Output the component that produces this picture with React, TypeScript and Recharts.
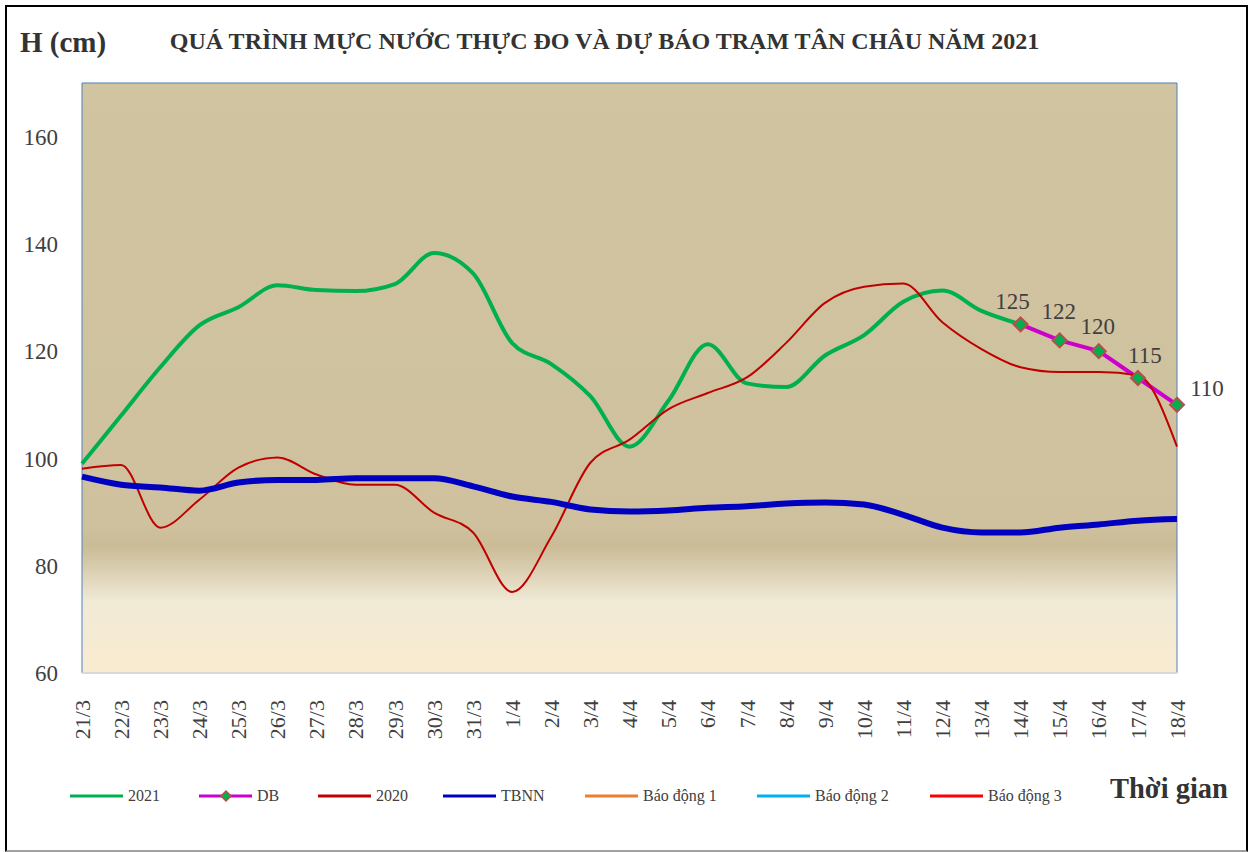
import React from 'react';
import { LineChart, Line, XAxis, YAxis, ReferenceArea, LabelList } from 'recharts';

// Mực nước trạm Tân Châu (cm), 21/3 – 18/4
const days = [
  '21/3', '22/3', '23/3', '24/3', '25/3', '26/3', '27/3', '28/3', '29/3', '30/3', '31/3',
  '1/4', '2/4', '3/4', '4/4', '5/4', '6/4', '7/4', '8/4', '9/4', '10/4', '11/4', '12/4',
  '13/4', '14/4', '15/4', '16/4', '17/4', '18/4',
];

const thucDo2021 = [
  99, 108, 117, 124.8, 128.2, 132.3, 131.4, 131.2, 132.5, 138.3, 134.5, 121.5, 117.6,
  111.6, 102.2, 110.8, 121.3, 114, 113.3, 119.2, 123, 129.2, 131.3, 127.5, 125,
  null, null, null, null,
];

const duBao = [
  null, null, null, null, null, null, null, null, null, null, null, null, null, null,
  null, null, null, null, null, null, null, null, null, null,
  125, 122, 120, 115, 110,
];

const nam2020 = [
  98.1, 98.8, 87.1, 92.3, 98.3, 100.2, 97, 95.1, 95.1, 89.9, 86.2, 75.1, 85.4, 99.2,
  103.5, 109.2, 112.2, 115.1, 121.5, 129, 132, 132.6, 125.4, 120.4, 117, 116.1,
  116.1, 115.5, 102.2,
];

const tbnn = [
  96.6, 95.1, 94.6, 94, 95.5, 96, 96, 96.3, 96.3, 96.3, 94.8, 92.9, 91.9, 90.5, 90.1,
  90.3, 90.8, 91.1, 91.6, 91.8, 91.4, 89.5, 87.1, 86.2, 86.2, 87.1, 87.7, 88.4, 88.7,
];

const yTicks = [60, 80, 100, 120, 140, 160];

const data = days.map((d, i) => ({
  ngay: d,
  y2021: thucDo2021[i],
  db: duBao[i],
  y2020: nam2020[i],
  tbnn: tbnn[i],
}));

const FONT = '"Times New Roman", "Liberation Serif", serif';
const TEXT = '#404040';

// where each forecast label sits relative to its point
const dbLabelOffsets: [number, number][] = [
  [-8, -23], [-1, -30], [-1, -25], [7, -23], [30, -17],
];
const firstDb = duBao.findIndex((v) => v != null);

const legendItems = [
  { name: '2021', color: '#00B050', x: 70, marker: false },
  { name: 'DB', color: '#CC00CC', x: 199, marker: true },
  { name: '2020', color: '#C00000', x: 318, marker: false },
  { name: 'TBNN', color: '#0000C0', x: 443, marker: false },
  { name: 'Báo động 1', color: '#ED7D31', x: 585, marker: false },
  { name: 'Báo động 2', color: '#00B0F0', x: 757, marker: false },
  { name: 'Báo động 3', color: '#FF0000', x: 930, marker: false },
];

const XTick = (props: any) => {
  const { x, payload } = props;
  const y = 700;
  return (
    <text
      x={x}
      y={y}
      transform={`rotate(-90 ${x} ${y})`}
      textAnchor="end"
      dy="0.35em"
      fontSize={22}
      fill={TEXT}
      fontFamily={FONT}
    >
      {payload.value}
    </text>
  );
};

const Diamond = (props: any) => {
  const { cx, cy, value } = props;
  if (value == null || cx == null || cy == null) return null;
  const r = 7;
  return (
    <path
      d={`M${cx},${cy - r}L${cx + r},${cy}L${cx},${cy + r}L${cx - r},${cy}Z`}
      fill="#00B050"
      stroke="#B3504A"
      strokeWidth={2}
    />
  );
};

const DbLabel = (props: any) => {
  const { x, y, value, index } = props;
  if (value == null) return null;
  const off = dbLabelOffsets[index - firstDb] || [0, -22];
  return (
    <text
      x={x + off[0]}
      y={y + off[1]}
      dy="0.35em"
      textAnchor="middle"
      fontSize={23}
      fill={TEXT}
      fontFamily={FONT}
    >
      {value}
    </text>
  );
};

export default function App() {
  return (
    <div
      style={{
        position: 'absolute',
        left: 0,
        top: 0,
        width: 1258,
        height: 852,
        background: '#fff',
        fontFamily: FONT,
      }}
    >
      <div
        style={{
          position: 'absolute',
          left: 5,
          top: 5,
          width: 1239,
          height: 843,
          borderLeft: '2px solid #000',
          borderTop: '2px solid #000',
          borderRight: '2px solid #000',
          borderBottom: '2px solid #a0a0a0',
        }}
      />
      <LineChart
        width={1258}
        height={852}
        data={data}
        margin={{ top: 83, right: 81, left: 22, bottom: 109 }}
      >
        <defs>
          <linearGradient id="bgGrad" x1="0" y1="0" x2="0" y2="1">
            <stop offset="0" stopColor="#D1C4A1" />
            <stop offset="0.75" stopColor="#CFC19E" />
            <stop offset="0.785" stopColor="#CBBB97" />
            <stop offset="0.88" stopColor="#F0EAD6" />
            <stop offset="1" stopColor="#FAEBCF" />
          </linearGradient>
        </defs>
        <ReferenceArea
          x1="21/3"
          x2="18/4"
          y1={60}
          y2={170}
          fill="url(#bgGrad)"
          fillOpacity={1}
          stroke="#4F81BD"
          strokeWidth={1}
        />
        <XAxis
          dataKey="ngay"
          interval={0}
          height={70}
          tick={<XTick />}
          tickLine={false}
          axisLine={{ stroke: '#D9D9D9', strokeWidth: 2 }}
        />
        <YAxis
          domain={[60, 170]}
          ticks={yTicks}
          width={60}
          tickLine={false}
          axisLine={false}
          tickSize={0}
          tickMargin={24}
          tick={{ fontSize: 23, fill: TEXT, fontFamily: FONT }}
        />
        <Line
          dataKey="y2021"
          type="monotone"
          stroke="#00B050"
          strokeWidth={4}
          dot={false}
          activeDot={false}
          isAnimationActive={false}
        />
        <Line
          dataKey="db"
          type="linear"
          stroke="#CC00CC"
          strokeWidth={4}
          dot={<Diamond />}
          activeDot={false}
          isAnimationActive={false}
        >
          <LabelList dataKey="db" content={<DbLabel />} />
        </Line>
        <Line
          dataKey="y2020"
          type="monotone"
          stroke="#C00000"
          strokeWidth={2}
          dot={false}
          activeDot={false}
          isAnimationActive={false}
        />
        <Line
          dataKey="tbnn"
          type="monotone"
          stroke="#0000C0"
          strokeWidth={6}
          dot={false}
          activeDot={false}
          isAnimationActive={false}
        />
      </LineChart>

      <div
        style={{
          position: 'absolute',
          left: 20,
          top: 26,
          fontSize: 29,
          fontWeight: 'bold',
          color: '#333',
        }}
      >
        H (cm)
      </div>
      <div
        style={{
          position: 'absolute',
          left: 0,
          width: 1209,
          top: 28,
          textAlign: 'center',
          fontSize: 24,
          fontWeight: 'bold',
          color: '#333',
        }}
      >
        QUÁ TRÌNH MỰC NƯỚC THỰC ĐO VÀ DỰ BÁO TRẠM TÂN CHÂU NĂM 2021
      </div>
      <div
        style={{
          position: 'absolute',
          left: 1110,
          top: 773,
          fontSize: 28.5,
          fontWeight: 'bold',
          color: '#333',
        }}
      >
        Thời gian
      </div>

      {legendItems.map((it) => (
        <div
          key={it.name}
          style={{
            position: 'absolute',
            left: it.x,
            top: 786,
            height: 20,
            display: 'flex',
            alignItems: 'center',
            fontSize: 16,
            color: TEXT,
          }}
        >
          <svg width={54} height={20}>
            <line x1={0} y1={10} x2={53} y2={10} stroke={it.color} strokeWidth={3} />
            {it.marker && (
              <path d="M27,5L32,10L27,15L22,10Z" fill="#00B050" stroke="#B3504A" strokeWidth={1.5} />
            )}
          </svg>
          <span style={{ marginLeft: 4 }}>{it.name}</span>
        </div>
      ))}
    </div>
  );
}
